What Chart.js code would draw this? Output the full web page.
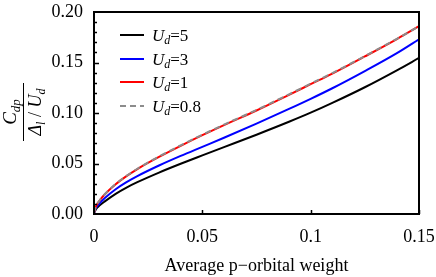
<!DOCTYPE html>
<html>
<head>
<meta charset="utf-8">
<script src="https://cdn.jsdelivr.net/npm/chart.js@4/dist/chart.umd.min.js"></script>
<style>
  html, body { margin: 0; padding: 0; background: #fff; }
  #wrap { width: 436px; height: 277px; }
</style>
</head>
<body>
<div id="wrap"><canvas id="c" width="436" height="277"></canvas></div>
<script>
var xWeight = [0, 0.001, 0.0025, 0.005, 0.01, 0.015, 0.02, 0.03, 0.04, 0.05, 0.06, 0.075, 0.09, 0.1, 0.11, 0.125, 0.14, 0.15];
var ud5  = [0.001, 0.0050, 0.0083, 0.0125, 0.0200, 0.0262, 0.0315, 0.0410, 0.0497, 0.0580, 0.0662, 0.0785, 0.0913, 0.1003, 0.1100, 0.1255, 0.1425, 0.1545];
var ud3  = [0.001, 0.0063, 0.0103, 0.0158, 0.0245, 0.0315, 0.0375, 0.0480, 0.0575, 0.0665, 0.0755, 0.0895, 0.1040, 0.1140, 0.1245, 0.1415, 0.1595, 0.1730];
var ud1  = [0.001, 0.0080, 0.0130, 0.0195, 0.0295, 0.0375, 0.0445, 0.0565, 0.0675, 0.0780, 0.0880, 0.1025, 0.1180, 0.1285, 0.1390, 0.1560, 0.1735, 0.1860];
var ud08 = [0.001, 0.0080, 0.0131, 0.0196, 0.0297, 0.0377, 0.0448, 0.0569, 0.0680, 0.0785, 0.0885, 0.1030, 0.1185, 0.1290, 0.1395, 0.1563, 0.1737, 0.1860];
var xTicks = [0, 0.05, 0.1, 0.15];
var yTicks = [0, 0.05, 0.1, 0.15, 0.2];
var legendNames = ["5", "3", "1", "0.8"];

var serif = "'Liberation Serif', 'Times New Roman', serif";

function pts(ys) {
    return xWeight.map(function (x, i) { return { x: x, y: ys[i] }; });
}

// box, inward ticks, legend and y title
var decor = {
    id: "decor",
    afterDraw: function (chart) {
        var ctx = chart.ctx, a = chart.chartArea;
        var xs = chart.scales.x, ys = chart.scales.y;
        ctx.save();
        ctx.strokeStyle = "#000";
        ctx.lineWidth = 2;
        ctx.strokeRect(a.left, a.top, a.right - a.left, a.bottom - a.top);

        ctx.lineWidth = 1.5;
        ctx.beginPath();
        for (var v = 0.01; v < 0.2; v += 0.01) {
            var py = Math.round(ys.getPixelForValue(v)) + 0.5;
            var major = Math.abs(v / 0.05 - Math.round(v / 0.05)) < 0.01;
            ctx.moveTo(a.left, py);
            ctx.lineTo(a.left + (major ? 5 : 3), py);
        }
        xTicks.forEach(function (t) {
            if (t === 0) return;
            var px = Math.round(xs.getPixelForValue(t)) + 0.5;
            ctx.moveTo(px, a.bottom);
            ctx.lineTo(px, a.bottom - 4);
        });
        ctx.stroke();

        // legend
        var rows = [35, 59, 82, 106];
        chart.data.datasets.slice().sort(function (p, q) { return p.legendIndex - q.legendIndex; }).forEach(function (ds, i) {
            var y = rows[i];
            ctx.strokeStyle = ds.borderColor;
            ctx.lineWidth = 2;
            ctx.setLineDash(ds.borderDash || []);
            ctx.beginPath();
            ctx.moveTo(120, y);
            ctx.lineTo(144, y);
            ctx.stroke();
            ctx.setLineDash([]);
            ctx.fillStyle = "#000";
            ctx.textBaseline = "alphabetic";
            ctx.textAlign = "left";
            var x = 152;
            ctx.font = "italic 17px " + serif;
            ctx.fillText("U", x, y + 6);
            x += ctx.measureText("U").width;
            ctx.font = "italic 12px " + serif;
            ctx.fillText("d", x, y + 9);
            x += ctx.measureText("d").width;
            ctx.font = "17px " + serif;
            ctx.fillText("=" + legendNames[i], x, y + 6);
        });

        // y axis title as a fraction
        ctx.translate(23, 112);
        ctx.rotate(-Math.PI / 2);
        ctx.fillStyle = "#000";
        ctx.strokeStyle = "#000";
        ctx.lineWidth = 1;
        ctx.beginPath();
        ctx.moveTo(-29, 0.5);
        ctx.lineTo(29, 0.5);
        ctx.stroke();
        ctx.textAlign = "left";
        ctx.font = "italic 19px " + serif;
        var wC = ctx.measureText("C").width;
        ctx.font = "italic 13px " + serif;
        var wdp = ctx.measureText("dp").width;
        var nx = -(wC + wdp) / 2;
        ctx.font = "italic 19px " + serif;
        ctx.fillText("C", nx, -7);
        ctx.font = "italic 13px " + serif;
        ctx.fillText("dp", nx + wC, -3);

        var parts = [
            ["italic 18px ", "\u0394", 0], ["italic 12px ", "l", 4], ["18px ", " / ", 0],
            ["italic 18px ", "U", 0], ["italic 12px ", "d", 4]
        ];
        var total = 0;
        parts.forEach(function (p) { ctx.font = p[0] + serif; total += ctx.measureText(p[1]).width; });
        var dx = -total / 2;
        parts.forEach(function (p) {
            ctx.font = p[0] + serif;
            ctx.fillText(p[1], dx, 18 + p[2]);
            dx += ctx.measureText(p[1]).width;
        });
        ctx.restore();
    }
};

function line(data, color, dash, order, legendIndex) {
    return {
        data: pts(data),
        borderColor: color,
        borderWidth: 2,
        borderDash: dash,
        pointRadius: 0,
        fill: false,
        cubicInterpolationMode: "monotone",
        order: order,
        legendIndex: legendIndex
    };
}

new Chart(document.getElementById("c").getContext("2d"), {
    type: "line",
    data: {
        datasets: [
            line(ud08, "#8c8c8c", [6, 4], 0, 3),
            line(ud1, "#ff0000", [], 1, 2),
            line(ud3, "#0000ff", [], 2, 1),
            line(ud5, "#000000", [], 3, 0)
        ]
    },
    options: {
        responsive: false,
        animation: false,
        layout: { padding: { left: 0, right: 17, top: 12, bottom: 0 } },
        plugins: { legend: { display: false }, tooltip: { enabled: false } },
        scales: {
            x: {
                type: "linear",
                min: 0,
                max: 0.15,
                afterBuildTicks: function (s) { s.ticks = xTicks.map(function (v) { return { value: v }; }); },
                afterFit: function (s) { s.height = 63; s.paddingLeft = 0; s.paddingRight = 0; },
                grid: { display: false },
                border: { display: false },
                ticks: {
                    color: "#000",
                    font: { family: serif, size: 18 },
                    padding: 4,
                    maxRotation: 0,
                    callback: function (v) { return String(+v.toFixed(2)); }
                },
                title: {
                    display: true,
                    text: "Average p\u2212orbital weight",
                    color: "#000",
                    font: { family: serif, size: 18 },
                    padding: { top: 14, bottom: 0 }
                }
            },
            y: {
                min: 0,
                max: 0.2,
                afterBuildTicks: function (s) { s.ticks = yTicks.map(function (v) { return { value: v }; }); },
                afterFit: function (s) { s.width = 94; s.paddingTop = 0; s.paddingBottom = 0; },
                grid: { display: false },
                border: { display: false },
                ticks: {
                    color: "#000",
                    font: { family: serif, size: 18 },
                    padding: 3,
                    callback: function (v) { return v.toFixed(2); }
                }
            }
        }
    },
    plugins: [decor]
});
</script>
</body>
</html>
